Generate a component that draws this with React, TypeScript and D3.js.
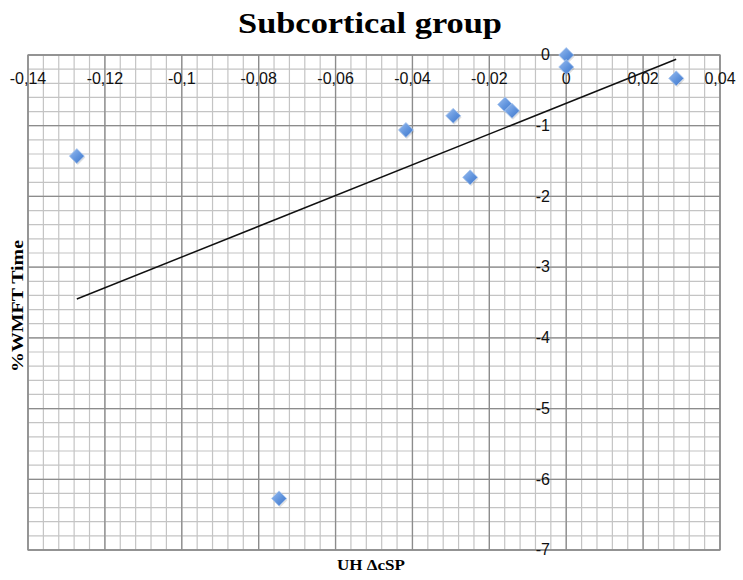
import React from "react";
import * as d3 from "d3";

const xValues = [-0.1273, -0.0417, -0.0294, -0.0159, -0.0141, -0.025, 0, 0, 0.0286, -0.0747];
const yValues = [-1.43, -1.06, -0.86, -0.7, -0.79, -1.73, 0, -0.17, -0.33, -6.27];
const xTicks = [-0.14, -0.12, -0.1, -0.08, -0.06, -0.04, -0.02, 0, 0.02, 0.04];
const yTicks = [0, -1, -2, -3, -4, -5, -6, -7];

const W = 743;
const H = 580;
const left = 28;
const right = 720;
const top = 55;
const bottom = 550;

export default function App() {
  const x = d3.scaleLinear().domain([-0.14, 0.04]).range([left, right]);
  const y = d3.scaleLinear().domain([0, -7]).range([top, bottom]);

  const xMinor = d3.range(0, 46).map((i) => -0.14 + i * 0.004);
  const yMinor = d3.range(0, 36).map((i) => -i * 0.2);

  // least squares trendline
  const mx = d3.mean(xValues)!;
  const my = d3.mean(yValues)!;
  let sxy = 0, sxx = 0;
  xValues.forEach((v, i) => {
    sxy += (v - mx) * (yValues[i] - my);
    sxx += (v - mx) * (v - mx);
  });
  const slope = sxy / sxx;
  const intercept = my - slope * mx;
  const x0 = d3.min(xValues)!;
  const x1 = d3.max(xValues)!;
  const line = d3.line<number>().x((d) => x(d)).y((d) => y(slope * d + intercept));

  const fmt = (v: number) => String(+v.toFixed(2)).replace(".", ",");
  const ds = 7.5;

  return (
    <svg width={W} height={H} style={{ position: "absolute", left: 0, top: 0, background: "#fff" }}>
      <defs>
        <linearGradient id="dg" x1="0" y1="0" x2="1" y2="1">
          <stop offset="0%" stopColor="#9dbff0" />
          <stop offset="55%" stopColor="#5f93dd" />
          <stop offset="100%" stopColor="#3f74c6" />
        </linearGradient>
      </defs>
      <rect x={0} y={0} width={W} height={H} fill="#fff" />
      {/* minor grid */}
      {xMinor.map((v, i) => (
        <line key={"xm" + i} x1={x(v)} x2={x(v)} y1={top} y2={bottom} stroke="#c4c4c4" strokeWidth={1.2} />
      ))}
      {yMinor.map((v, i) => (
        <line key={"ym" + i} x1={left} x2={right} y1={y(v)} y2={y(v)} stroke="#c4c4c4" strokeWidth={1.2} />
      ))}
      {/* major grid */}
      {xTicks.map((v, i) => (
        <line key={"xM" + i} x1={x(v)} x2={x(v)} y1={top} y2={bottom} stroke="#8c8c8c" strokeWidth={1.3} />
      ))}
      {yTicks.map((v, i) => (
        <line key={"yM" + i} x1={left} x2={right} y1={y(v)} y2={y(v)} stroke="#8c8c8c" strokeWidth={1.3} />
      ))}
      <rect x={left} y={top} width={right - left} height={bottom - top} fill="none" stroke="#8c8c8c" strokeWidth={1.3} />
      {/* x tick labels */}
      {xTicks.map((v, i) => (
        <text key={"xl" + i} x={x(v)} y={80} textAnchor="middle" dominantBaseline="middle"
          fontFamily="'Liberation Sans', Arial, sans-serif" fontSize={16} fill="#111">
          {fmt(v)}
        </text>
      ))}
      {/* y tick labels */}
      {yTicks.map((v, i) => (
        <text key={"yl" + i} x={550} y={y(v) + 1} textAnchor="end" dominantBaseline="middle"
          fontFamily="'Liberation Sans', Arial, sans-serif" fontSize={16} fill="#111">
          {String(v)}
        </text>
      ))}
      {/* trendline */}
      <path d={line([x0, x1]) || ""} fill="none" stroke="#111" strokeWidth={1.5} />
      {/* points */}
      {xValues.map((v, i) => {
        const cx = x(v);
        const cy = y(yValues[i]);
        return (
          <g key={"p" + i}>
            <path d={`M${cx + 1},${cy - ds + 1.5}L${cx + ds + 1},${cy + 1.5}L${cx + 1},${cy + ds + 1.5}L${cx - ds + 1},${cy + 1.5}Z`}
              fill="#000" opacity={0.12} />
            <path d={`M${cx},${cy - ds}L${cx + ds},${cy}L${cx},${cy + ds}L${cx - ds},${cy}Z`}
              fill="url(#dg)" stroke="#aac6ef" strokeWidth={0.8} />
          </g>
        );
      })}
      {/* titles */}
      <text x={370} y={33} textAnchor="middle" fontFamily="'Liberation Serif', 'DejaVu Serif', serif"
        fontWeight="bold" fontSize={30} textLength={264} lengthAdjust="spacingAndGlyphs" fill="#000">
        Subcortical group
      </text>
      <text x={371} y={570} textAnchor="middle" fontFamily="'Liberation Serif', 'DejaVu Serif', serif"
        fontWeight="bold" fontSize={15} textLength={68} lengthAdjust="spacingAndGlyphs" fill="#000">
        UH ΔcSP
      </text>
      <text transform="translate(23,306) rotate(-90)" textAnchor="middle"
        fontFamily="'Liberation Serif', 'DejaVu Serif', serif" fontWeight="bold" fontSize={16}
        textLength={132} lengthAdjust="spacingAndGlyphs" fill="#000">
        %WMFT Time
      </text>
    </svg>
  );
}
